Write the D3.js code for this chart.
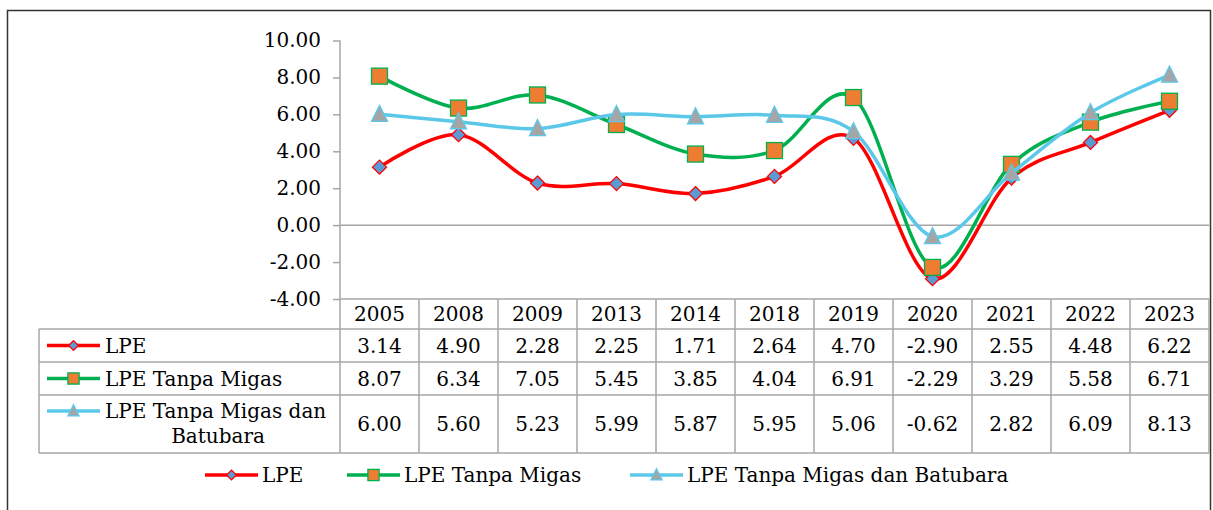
<!DOCTYPE html>
<html lang="id">
<head>
    <meta charset="UTF-8">
    <title>LPE</title>
    <script src="https://cdnjs.cloudflare.com/ajax/libs/d3/7.8.5/d3.min.js"></script>
    <style>
        body { margin: 0; background: #ffffff; }
        text { font-family: "DejaVu Serif", serif; fill: #000; }
    </style>
</head>
<body>
    <script>
        var years = ["2005","2008","2009","2013","2014","2018","2019","2020","2021","2022","2023"];
        var lpe = [3.14, 4.90, 2.28, 2.25, 1.71, 2.64, 4.70, -2.90, 2.55, 4.48, 6.22];
        var lpeTanpaMigas = [8.07, 6.34, 7.05, 5.45, 3.85, 4.04, 6.91, -2.29, 3.29, 5.58, 6.71];
        var lpeTanpaMigasBatubara = [6.00, 5.60, 5.23, 5.99, 5.87, 5.95, 5.06, -0.62, 2.82, 6.09, 8.13];
        var yTicks = [-4, -2, 0, 2, 4, 6, 8, 10];

        var series = [
            { name: "LPE", label: ["LPE"], values: lpe, line: "#ff0000", fill: "#5b9bd5", stroke: "#ff0000", shape: "diamond" },
            { name: "LPE Tanpa Migas", label: ["LPE Tanpa Migas"], values: lpeTanpaMigas, line: "#00b050", fill: "#ed7d31", stroke: "#00b050", shape: "square" },
            { name: "LPE Tanpa Migas dan Batubara", label: ["LPE Tanpa Migas dan", "Batubara"], values: lpeTanpaMigasBatubara, line: "#5bc8ea", fill: "#a5a5a5", stroke: "#5bc8ea", shape: "triangle" }
        ];

        // plain hyphen for negatives, like the source
        function fmt(v) { return d3.format(".2f")(v).replace("\u2212", "-"); }

        var W = 1213, H = 510;
        var svg = d3.select("body").append("svg")
            .attr("width", W).attr("height", H);

        // outer frame
        svg.append("rect")
            .attr("x", 7.5).attr("y", 10.5)
            .attr("width", 1203).attr("height", 530)
            .attr("fill", "none").attr("stroke", "#333").attr("stroke-width", 1.5);

        var left = 340, right = 1209;
        var x = d3.scaleBand().domain(years).range([left, right]);
        var y = d3.scaleLinear().domain([-4, 10]).range([299, 40.5]);
        var grid = "#a6a6a6";
        var fs = "20px";

        // y axis
        var yAxis = d3.axisLeft(y).tickValues(yTicks).tickSize(7).tickPadding(12)
            .tickFormat(fmt);
        var ga = svg.append("g").attr("transform", "translate(" + left + ",0)").call(yAxis);
        ga.selectAll("path, line").attr("stroke", grid).attr("stroke-width", 1.5);
        ga.select(".domain").attr("d", "M0," + y(10) + "V" + y(-4));
        ga.selectAll("text").style("font-family", "DejaVu Serif").style("font-size", fs).attr("fill", "#000");

        // zero line
        svg.append("line")
            .attr("x1", left).attr("x2", right)
            .attr("y1", y(0)).attr("y2", y(0))
            .attr("stroke", grid).attr("stroke-width", 1.5);

        // marker shapes, k scales them down for the legend keys
        function marker(g, shape, cx, cy, fill, stroke, k) {
            k = k || 1;
            var s;
            if (shape === "diamond") {
                s = 7 * k;
                g.append("path").attr("d", "M" + cx + "," + (cy - s) + "L" + (cx + s) + "," + cy + "L" + cx + "," + (cy + s) + "L" + (cx - s) + "," + cy + "Z");
            } else if (shape === "square") {
                s = 8 * k;
                g.append("rect").attr("x", cx - s).attr("y", cy - s).attr("width", 2 * s).attr("height", 2 * s);
            } else {
                s = 8 * k;
                g.append("path").attr("d", "M" + cx + "," + (cy - s - k) + "L" + (cx + s) + "," + (cy + s - k) + "L" + (cx - s) + "," + (cy + s - k) + "Z");
            }
            g.selectAll("*").attr("fill", fill).attr("stroke", stroke).attr("stroke-width", 1.3);
        }

        var line = d3.line()
            .x(function (d, i) { return x(years[i]) + x.bandwidth() / 2; })
            .y(function (d) { return y(d); })
            .curve(d3.curveCardinal.tension(0));

        series.forEach(function (s) {
            var g = svg.append("g");
            g.append("path").datum(s.values)
                .attr("d", line)
                .attr("fill", "none").attr("stroke", s.line).attr("stroke-width", 3.5);
            s.values.forEach(function (v, i) {
                marker(g.append("g"), s.shape, x(years[i]) + x.bandwidth() / 2, y(v), s.fill, s.stroke);
            });
        });

        // data table
        var rowTop = [299, 329, 362, 395, 453];
        var tableLeft = 39;
        var tg = svg.append("g");
        // horizontal lines
        tg.append("line").attr("x1", left).attr("x2", right).attr("y1", rowTop[0]).attr("y2", rowTop[0]);
        for (var r = 1; r < rowTop.length; r++) {
            tg.append("line").attr("x1", tableLeft).attr("x2", right).attr("y1", rowTop[r]).attr("y2", rowTop[r]);
        }
        // vertical lines
        tg.append("line").attr("x1", tableLeft).attr("x2", tableLeft).attr("y1", rowTop[1]).attr("y2", rowTop[4]);
        years.forEach(function (yr) {
            tg.append("line").attr("x1", x(yr)).attr("x2", x(yr)).attr("y1", rowTop[0]).attr("y2", rowTop[4]);
        });
        tg.append("line").attr("x1", right).attr("x2", right).attr("y1", rowTop[0]).attr("y2", rowTop[4]);
        tg.selectAll("line").attr("stroke", grid).attr("stroke-width", 1.5);

        // header
        years.forEach(function (yr) {
            tg.append("text").attr("x", x(yr) + x.bandwidth() / 2).attr("y", (rowTop[0] + rowTop[1]) / 2)
                .attr("text-anchor", "middle").attr("dy", "0.36em").style("font-size", fs).text(yr);
        });

        function legendKey(g, s, x0, cy) {
            g.append("line").attr("x1", x0).attr("x2", x0 + 53).attr("y1", cy).attr("y2", cy)
                .attr("stroke", s.line).attr("stroke-width", 3.5);
            marker(g.append("g"), s.shape, x0 + 26.5, cy, s.fill, s.stroke, 0.7);
        }

        series.forEach(function (s, k) {
            var top = rowTop[k + 1], bot = rowTop[k + 2];
            var mid = (top + bot) / 2;
            s.values.forEach(function (v, i) {
                tg.append("text").attr("x", x(years[i]) + x.bandwidth() / 2).attr("y", mid)
                    .attr("text-anchor", "middle").attr("dy", "0.36em").style("font-size", fs)
                    .text(fmt(v));
            });
            if (s.label.length === 1) {
                legendKey(tg.append("g"), s, 47, mid);
                tg.append("text").attr("x", 105).attr("y", mid).attr("dy", "0.36em")
                    .style("font-size", fs).text(s.label[0]);
            } else {
                legendKey(tg.append("g"), s, 47, mid - 13);
                tg.append("text").attr("x", 105).attr("y", mid - 13).attr("dy", "0.36em")
                    .style("font-size", fs).text(s.label[0]);
                tg.append("text").attr("x", 218).attr("y", mid + 12).attr("dy", "0.36em")
                    .attr("text-anchor", "middle").style("font-size", fs).text(s.label[1]);
            }
        });

        // bottom legend
        var legX = [205, 347, 630];
        var lg = svg.append("g");
        series.forEach(function (s, k) {
            legendKey(lg.append("g"), s, legX[k], 475);
            lg.append("text").attr("x", legX[k] + 57).attr("y", 475).attr("dy", "0.36em")
                .style("font-size", fs).text(s.name);
        });
    </script>
</body>
</html>
